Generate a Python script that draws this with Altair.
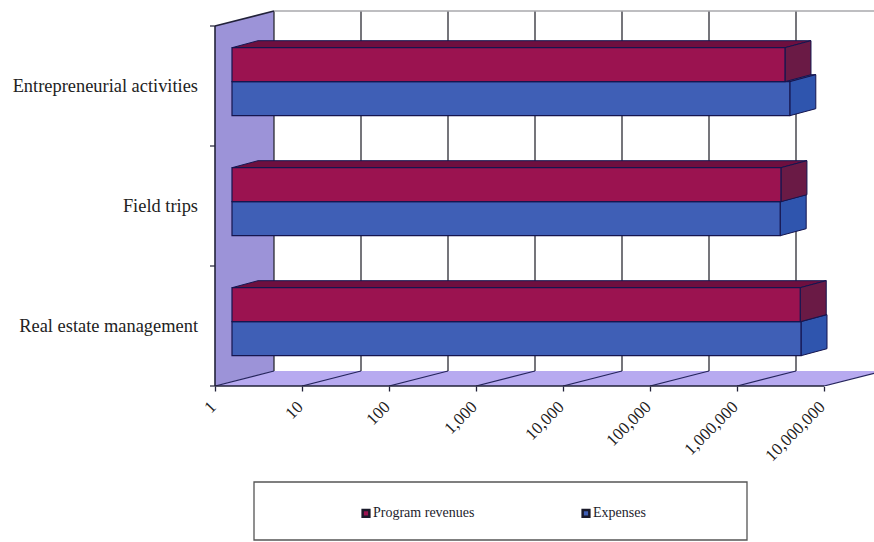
import altair as alt
import pandas as pd

# Bar values, bottom category first
categories = ["Real estate management", "Field trips", "Entrepreneurial activities"]
program_revenues = [3400000, 2040000, 2270000]
expenses = [3470000, 2000000, 2580000]
tick_values = [1, 10, 100, 1000, 10000, 100000, 1000000, 10000000]
series_names = ["Program revenues", "Expenses"]
series_colors = ["#9b1350", "#3f5fb6"]

# Oblique projection, expressed in axis units (decades, category widths)
DEPTH_X, DEPTH_Y = 59 / 87, 15 / 120
BAR_FRONT_X, BAR_FRONT_Y = 17 / 87, 4.3 / 120
BAR_DEPTH_X, BAR_DEPTH_Y = 26 / 87, 7 / 120
BAR_HEIGHT = 34 / 120
N = len(categories)
W, H = 659, 376
X_MAX = 10 ** (W / 87)
Y_MAX = H / 120

INK = "#15154f"
AXIS_INK = "#22223a"
FONT = "Liberation Serif"

xs = alt.Scale(type="log", domain=[1, X_MAX], nice=False)
ys = alt.Scale(type="linear", domain=[0, Y_MAX], nice=False, zero=False)
x_axis = alt.Axis(
    title=None, values=tick_values, format=",", labelAngle=-45, labelAlign="right",
    labelBaseline="middle", labelFont=FONT, labelFontSize=17, labelColor="#222222", labelPadding=13,
    labelOffset=-2, labelOverlap=False, labelFlush=False, labelBound=False,
    tickSize=5, tickColor=AXIS_INK, tickWidth=1.3, domain=False, grid=False)
X = lambda f="x": alt.X(f"{f}:Q", scale=xs, axis=x_axis, stack=None)
Y = lambda f="y": alt.Y(f"{f}:Q", scale=ys, axis=None, stack=None)


def shift(v, decades):
    return v * 10 ** decades


# Side wall and floor of the chart box
wall = pd.DataFrame([
    {"x": 1, "y": 0, "y2": N},
    {"x": shift(1, DEPTH_X), "y": DEPTH_Y, "y2": N + DEPTH_Y},
])
floor = pd.DataFrame([
    {"y": 0, "x": 1, "x2": tick_values[-1]},
    {"y": DEPTH_Y, "x": shift(1, DEPTH_X), "x2": shift(tick_values[-1], DEPTH_X)},
])
wall_layer = alt.Chart(wall).mark_area(fill="#9c93d8", orient="vertical").encode(
    x=X(), y=Y(), y2="y2:Q")
floor_layer = alt.Chart(floor).mark_area(fill="#b7aaf0", orient="horizontal", clip=True).encode(
    y=Y(), x=X(), x2="x2:Q")

# Gridlines on the back wall, their floor diagonals, and the box edges
grid = pd.DataFrame({"x": [shift(t, DEPTH_X) for t in tick_values], "y": DEPTH_Y, "y2": N + DEPTH_Y})
grid_layer = alt.Chart(grid).mark_rule(color="#2b2b33", strokeWidth=1.3, clip=True).encode(
    x=X(), y=Y(), y2="y2:Q")

diag = pd.DataFrame(
    [{"tick": t, "x": t, "y": 0} for t in tick_values]
    + [{"tick": t, "x": shift(t, DEPTH_X), "y": DEPTH_Y} for t in tick_values]
)
diag_layer = alt.Chart(diag).mark_line(color="#24245c", strokeWidth=1.2, clip=True).encode(
    x=X(), y=Y(), detail="tick:N")

top_edge = pd.DataFrame({"x": [shift(1, DEPTH_X)], "x2": [X_MAX], "y": [N + DEPTH_Y]})
top_layer = alt.Chart(top_edge).mark_rule(color="#a9a9ad", strokeWidth=1.5).encode(
    x=X(), x2="x2:Q", y=Y())

edges = pd.DataFrame(
    [{"edge": "front", "x": 1, "y": 0}, {"edge": "front", "x": 1, "y": N},
     {"edge": "slant", "x": 1, "y": N}, {"edge": "slant", "x": shift(1, DEPTH_X), "y": N + DEPTH_Y},
     {"edge": "base", "x": 1, "y": 0}, {"edge": "base", "x": tick_values[-1], "y": 0}]
)
edge_layer = alt.Chart(edges).mark_line(color=AXIS_INK, strokeWidth=1.6).encode(
    x=X(), y=Y(), detail="edge:N", order="y:Q")

ticks = pd.DataFrame({"y": list(range(N + 1))})
tick_layer = alt.Chart(ticks).mark_rule(color=AXIS_INK, strokeWidth=1.2).encode(
    x=alt.value(-5), x2=alt.value(0), y=Y())


def box_layers(values, offset, name, top_fill, side_fill):
    """Top face, end face and front face for one series."""
    tops, sides, fronts = [], [], []
    for i, v in enumerate(values):
        base = i + 0.5 + BAR_FRONT_Y + offset
        high = base + BAR_HEIGHT
        x0 = shift(1, BAR_FRONT_X)
        x1 = shift(v, BAR_FRONT_X)
        tops += [
            {"c": i, "y": high, "x": x0, "x2": x1},
            {"c": i, "y": high + BAR_DEPTH_Y, "x": shift(x0, BAR_DEPTH_X), "x2": shift(x1, BAR_DEPTH_X)},
        ]
        sides += [
            {"c": i, "x": x1, "y": base, "y2": high},
            {"c": i, "x": shift(x1, BAR_DEPTH_X), "y": base + BAR_DEPTH_Y, "y2": high + BAR_DEPTH_Y},
        ]
        fronts.append({"series": name, "x": x0, "x2": x1, "y": base, "y2": high})
    top = alt.Chart(pd.DataFrame(tops)).mark_area(
        fill=top_fill, stroke=INK, strokeWidth=1, orient="horizontal"
    ).encode(y=Y(), x=X(), x2="x2:Q", detail="c:N")
    side = alt.Chart(pd.DataFrame(sides)).mark_area(
        fill=side_fill, stroke=INK, strokeWidth=1, orient="vertical"
    ).encode(x=X(), y=Y(), y2="y2:Q", detail="c:N")
    front = alt.Chart(pd.DataFrame(fronts)).mark_rect(stroke=INK, strokeWidth=1.2).encode(
        x=X(), x2="x2:Q", y=Y(), y2="y2:Q",
        color=alt.Color("series:N", scale=alt.Scale(domain=series_names, range=series_colors),
                        legend=alt.Legend(
                            title=None, orient="none", legendX=144, legendY=496, direction="horizontal",
                            symbolType="square", symbolSize=45, symbolStrokeColor="#1a1a2a",
                            symbolStrokeWidth=2.5, labelFont=FONT, labelFontSize=14,
                            labelColor="#1d1d2d", labelOffset=0, columnPadding=102)))
    return [top, side, front]


label_layer = alt.Chart(pd.DataFrame({"name": categories, "y": [i + 0.5 for i in range(N)]})).mark_text(
    align="right", baseline="middle", font=FONT, fontSize=18.4, color="#222222"
).encode(x=alt.value(-17), y=Y(), text="name:N")

legend_box = alt.Chart(pd.DataFrame({"box": [0]})).mark_rect(
    fill="white", fillOpacity=0, stroke="#555555", strokeWidth=1.3
).encode(x=alt.value(39), x2=alt.value(532), y=alt.value(472), y2=alt.value(530))

chart = alt.layer(
    wall_layer, floor_layer, grid_layer, diag_layer, top_layer, edge_layer, tick_layer,
    *box_layers(expenses, -BAR_HEIGHT, "Expenses", "#33509c", "#2f55ae"),
    *box_layers(program_revenues, 0, "Program revenues", "#6e0f3f", "#6a1a45"),
    label_layer, legend_box,
).properties(
    width=W, height=H,
    autosize=alt.AutoSizeParams(type="none"),
    padding={"left": 215, "top": 10, "right": 0, "bottom": 156},
    background="white",
).configure_view(stroke=None)

chart.save("out.html", embed_options={"renderer": "svg", "actions": False})
